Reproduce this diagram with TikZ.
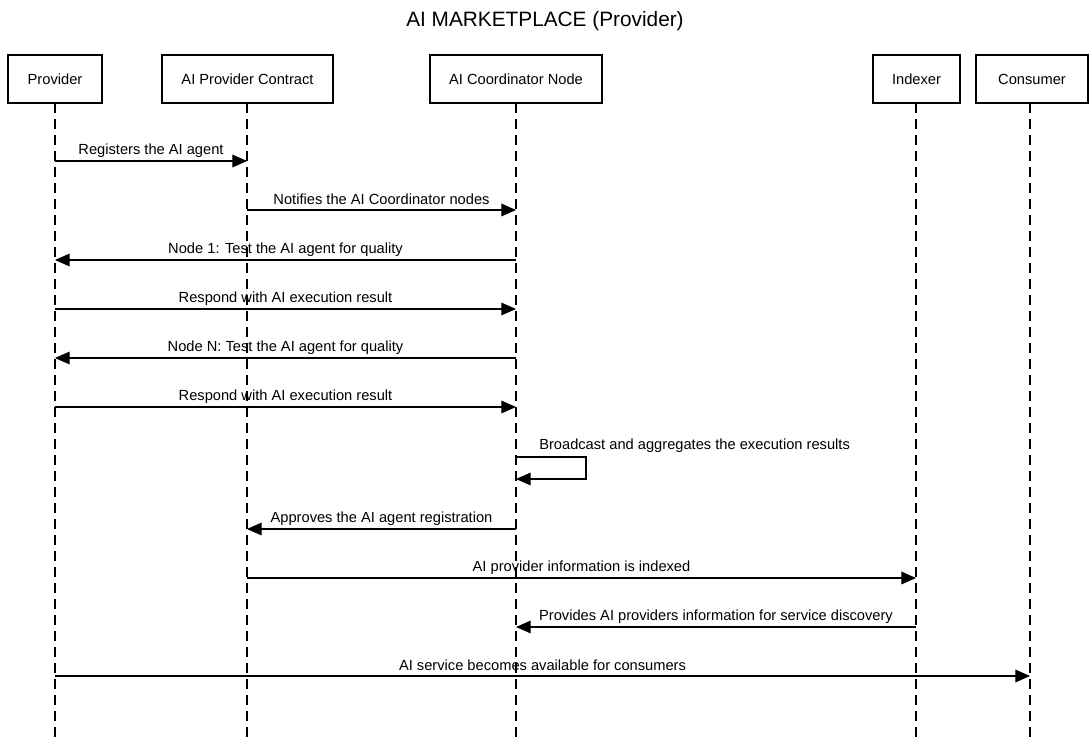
\documentclass[tikz,border=0pt]{standalone}
\usepackage{fontspec}
\setmainfont{Liberation Sans}
\usetikzlibrary{arrows.meta,calc}
\begin{document}
\begin{tikzpicture}[x=0.75pt,y=-0.75pt,
  actor/.style={draw,line width=1.5pt,minimum height=36pt,inner sep=0pt,font=\fontsize{11pt}{13pt}\selectfont},
  life/.style={line width=0.8pt,dash pattern=on 7.5pt off 4.5pt},
  msg/.style={line width=0.8pt,-{Triangle[length=11pt,width=9.5pt]}},
  lbl/.style={font=\fontsize{11pt}{13pt}\selectfont,inner sep=0pt}]
\useasboundingbox (0,0) rectangle (1091,738);
\node[font=\fontsize{15.6pt}{18pt}\selectfont] (title) at (545,21) {AI MARKETPLACE (Provider)};
% actors
\node[actor,minimum width=70.5pt] (P) at (55,79) {Provider};
\node[actor,minimum width=128.25pt] (C) at (247.5,79) {AI Provider Contract};
\node[actor,minimum width=129pt] (N) at (516,79) {AI Coordinator Node};
\node[actor,minimum width=65.25pt] (I) at (916.5,79) {Indexer};
\node[actor,minimum width=84pt] (U) at (1032,79) {Consumer};
% lifeline ends
\coordinate (Pe) at (55,738);
\coordinate (Ce) at (247,738);
\coordinate (Ne) at (516,738);
\coordinate (Ie) at (916,738);
\coordinate (Ue) at (1030,738);
\coordinate (Ps) at (55,103);
\coordinate (Cs) at (247,103);
\coordinate (Ns) at (516,103);
\coordinate (Is) at (916,103);
\coordinate (Us) at (1030,103);
\foreach \a in {P,C,N,I,U} \draw[life] (\a s) -- (\a e);
% message rows
\foreach \n/\y in {1/161,2/210,3/260,4/309,5/358,6/407,7/457,8/479,9/529,10/578,11/627,12/676}
  \coordinate (r\n) at (0,\y);
\draw[msg] (Ps |- r1) -- node[lbl,yshift=8pt]{Registers the AI agent} (Cs |- r1);
\draw[msg] (Cs |- r2) -- node[lbl,yshift=8pt]{Notifies the AI Coordinator nodes} (Ns |- r2);
\draw[msg] (Ns |- r3) -- node[lbl,yshift=8pt]{Node 1: Test the AI agent for quality} (Ps |- r3);
\draw[msg] (Ps |- r4) -- node[lbl,yshift=8pt]{Respond with AI execution result} (Ns |- r4);
\draw[msg] (Ns |- r5) -- node[lbl,yshift=8pt]{Node N: Test the AI agent for quality} (Ps |- r5);
\draw[msg] (Ps |- r6) -- node[lbl,yshift=8pt]{Respond with AI execution result} (Ns |- r6);
\coordinate (loopR) at (586,468);
\draw[msg] (Ns |- r7) -- (loopR |- r7) -- (loopR |- r8) -- (Ns |- r8);
\node[lbl,anchor=west] (loopL) at (539,446) {Broadcast and aggregates the execution results};
\draw[msg] (Ns |- r9) -- node[lbl,yshift=8pt]{Approves the AI agent registration} (Cs |- r9);
\draw[msg] (Cs |- r10) -- node[lbl,yshift=8pt]{AI provider information is indexed} (Is |- r10);
\draw[msg] (Is |- r11) -- node[lbl,yshift=8pt]{Provides AI providers information for service discovery} (Ns |- r11);
\draw[msg] (Ps |- r12) -- node[lbl,yshift=8pt]{AI service becomes available for consumers} (Us |- r12);
\end{tikzpicture}
\end{document}
